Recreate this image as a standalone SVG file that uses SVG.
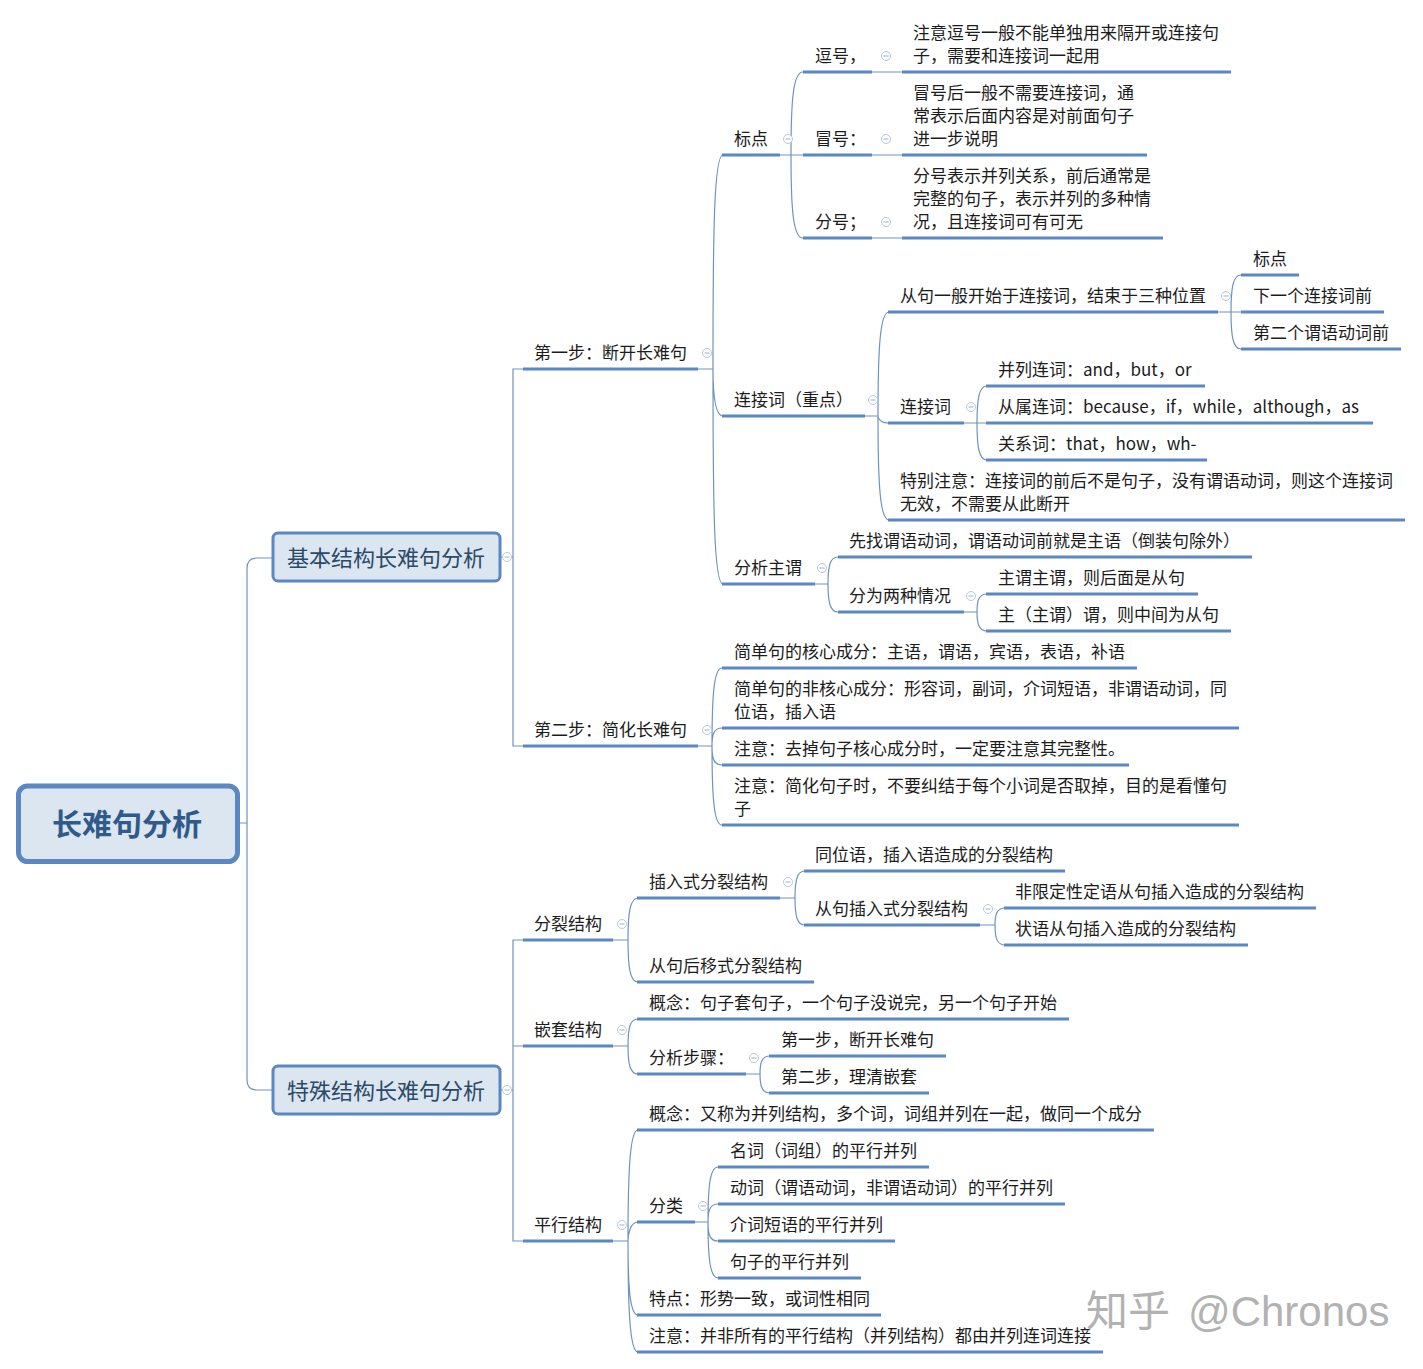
<svg xmlns="http://www.w3.org/2000/svg" width="1423" height="1369" viewBox="0 0 1423 1369">
<style>
text{font-family:"Noto Sans CJK SC","Liberation Sans",sans-serif;font-size:17px;fill:#1c1c1c}
.u{stroke:#5b87c2;stroke-width:3;fill:none}
.c{stroke:#6f93bd;stroke-width:1.2;fill:none}
.box{fill:#dce6f1;stroke:#5b87c2;stroke-width:3}
.m{font-size:22px;fill:#2b4a68}
.r{font-size:30px;font-weight:700;fill:#2f5a8a}
.w{font-size:42px;fill:#b2b2b2}
</style>
<defs>
<g id="ic"><circle r="4.5" fill="#fff" stroke="#b9c9d9" stroke-width="1"/><path d="M-2.500 0H2.500" stroke="#9fb2c6" stroke-width="1"/></g>
</defs>
<rect width="1423" height="1369" fill="#fff"/>
<g id="connectors">
<path class="c" d="M238 823H247M273 558H257Q247 558 247 568V1080Q247 1090 257 1090H273"/>
<path class="c" d="M500 557H513M523 369H513V746H523"/>
<path class="c" d="M500 1090H513M523 940H513V1241H523M513 1046H523"/>
<path class="c" d="M698 369H713M713 369C713 230 714 155 723 155M713 369C713 385 714 416 723 416M713 369C713 509 714 584 723 584"/>
<path class="c" d="M780 155H803M791 155C791 101 793 72 803 72M791 155C791 209 793 238 803 238"/>
<path class="c" d="M872 72H902M872 155H902M872 238H902"/>
<path class="c" d="M865 416H878M878 416C878 348 880 312 889 312M878 416C878 418 880 423 889 423M878 416C878 484 880 520 889 520"/>
<path class="c" d="M1218 312H1241M1231 312C1231 288 1233 275 1241 275M1231 312C1231 336 1233 349 1241 349"/>
<path class="c" d="M964 423H986M977 423C977 399 979 386 987 386M977 423C977 447 979 460 987 460"/>
<path class="c" d="M815 584H828M828 584C828 566 830 557 838 557M828 584C828 602 830 612 838 612"/>
<path class="c" d="M964 612H977M977 612C977 600 979 594 987 594M977 612C977 624 979 631 987 631"/>
<path class="c" d="M698 746H712M712 746C712 695 714 668 722 668M712 746C712 734 714 728 722 728M712 746C712 759 714 765 722 765M712 746C712 798 714 825 722 825"/>
<path class="c" d="M613 940H628M628 940C628 913 630 898 638 898M628 940C628 967 630 982 638 982"/>
<path class="c" d="M780 898H795M795 898C795 880 797 871 805 871M795 898C795 916 797 925 805 925"/>
<path class="c" d="M980 925H995M995 925C995 914 997 908 1005 908M995 925C995 938 997 945 1005 945"/>
<path class="c" d="M613 1046H628M628 1046C628 1028 630 1019 638 1019M628 1046C628 1064 630 1074 638 1074"/>
<path class="c" d="M746 1074H760M760 1074C760 1062 762 1056 770 1056M760 1074C760 1086 762 1093 770 1093"/>
<path class="c" d="M613 1241H628M628 1241C628 1170 630 1130 638 1130M628 1241C628 1235 630 1222 638 1222M628 1241C628 1288 630 1315 638 1315M628 1241C628 1312 630 1352 638 1352"/>
<path class="c" d="M695 1222H708M708 1222C708 1186 710 1167 718 1167M708 1222C708 1210 710 1204 718 1204M708 1222C708 1235 710 1241 718 1241M708 1222C708 1258 710 1278 718 1278"/>
</g>
<g id="root"><rect x="18.500" y="786" width="219" height="75.500" rx="9" fill="#dce6f1" stroke="#5b87c2" stroke-width="5"/><text class="r" x="127" y="835" text-anchor="middle">长难句分析</text></g>
<g id="m1"><rect class="box" x="273" y="533" width="227" height="48" rx="5"/><text class="m" x="287" y="566">基本结构长难句分析</text><use href="#ic" x="507" y="557"/></g>
<g id="m2"><rect class="box" x="273" y="1066" width="227" height="48" rx="5"/><text class="m" x="287" y="1099">特殊结构长难句分析</text><use href="#ic" x="507" y="1090"/></g>

<g id="s1"><text x="534" y="359">第一步：断开长难句</text><path class="u" d="M523 369H698"/><use href="#ic" x="707" y="353"/></g>
<g id="s1a"><text x="734" y="145">标点</text><path class="u" d="M722 155H780"/><use href="#ic" x="788" y="139"/></g>
<g id="s1a1"><text x="815" y="62">逗号，</text><path class="u" d="M803 72H872"/><use href="#ic" x="886" y="56"/></g>
<g id="s1a1t"><text x="913" y="39">注意逗号一般不能单独用来隔开或连接句</text><text x="913" y="62">子，需要和连接词一起用</text><path class="u" d="M902 72H1231"/></g>
<g id="s1a2"><text x="815" y="145">冒号：</text><path class="u" d="M803 155H872"/><use href="#ic" x="886" y="139"/></g>
<g id="s1a2t"><text x="913" y="99">冒号后一般不需要连接词，通</text><text x="913" y="122">常表示后面内容是对前面句子</text><text x="913" y="145">进一步说明</text><path class="u" d="M902 155H1147"/></g>
<g id="s1a3"><text x="815" y="228">分号；</text><path class="u" d="M803 238H872"/><use href="#ic" x="886" y="222"/></g>
<g id="s1a3t"><text x="913" y="182">分号表示并列关系，前后通常是</text><text x="913" y="205">完整的句子，表示并列的多种情</text><text x="913" y="228">况，且连接词可有可无</text><path class="u" d="M902 238H1163"/></g>

<g id="s1b"><text x="734" y="406">连接词（重点）</text><path class="u" d="M722 416H865"/><use href="#ic" x="873" y="400"/></g>
<g id="s1b1"><text x="900" y="302">从句一般开始于连接词，结束于三种位置</text><path class="u" d="M888 312H1218"/><use href="#ic" x="1226" y="296"/></g>
<g id="s1b1a"><text x="1253" y="265">标点</text><path class="u" d="M1241 275H1299"/></g>
<g id="s1b1b"><text x="1253" y="302">下一个连接词前</text><path class="u" d="M1241 312H1384"/></g>
<g id="s1b1c"><text x="1253" y="339">第二个谓语动词前</text><path class="u" d="M1241 349H1401"/></g>
<g id="s1b2"><text x="900" y="413">连接词</text><path class="u" d="M888 423H964"/><use href="#ic" x="971" y="407"/></g>
<g id="s1b2a"><text x="998" y="376">并列连词：and，but，or</text><path class="u" d="M986 386H1205"/></g>
<g id="s1b2b"><text x="998" y="413">从属连词：because，if，while，although，as</text><path class="u" d="M986 423H1373"/></g>
<g id="s1b2c"><text x="998" y="450">关系词：that，how，wh-</text><path class="u" d="M986 460H1207"/></g>
<g id="s1b3"><text x="900" y="487">特别注意：连接词的前后不是句子，没有谓语动词，则这个连接词</text><text x="900" y="510">无效，不需要从此断开</text><path class="u" d="M888 520H1405"/></g>

<g id="s1c"><text x="734" y="574">分析主谓</text><path class="u" d="M722 584H815"/><use href="#ic" x="822" y="568"/></g>
<g id="s1c1"><text x="849" y="547">先找谓语动词，谓语动词前就是主语（倒装句除外）</text><path class="u" d="M838 557H1252"/></g>
<g id="s1c2"><text x="849" y="602">分为两种情况</text><path class="u" d="M838 612H964"/><use href="#ic" x="971" y="596"/></g>
<g id="s1c2a"><text x="998" y="584">主谓主谓，则后面是从句</text><path class="u" d="M986 594H1198"/></g>
<g id="s1c2b"><text x="998" y="621">主（主谓）谓，则中间为从句</text><path class="u" d="M986 631H1231"/></g>

<g id="s2"><text x="534" y="736">第二步：简化长难句</text><path class="u" d="M523 746H698"/><use href="#ic" x="707" y="730"/></g>
<g id="s2a"><text x="734" y="658">简单句的核心成分：主语，谓语，宾语，表语，补语</text><path class="u" d="M722 668H1137"/></g>
<g id="s2b"><text x="734" y="695">简单句的非核心成分：形容词，副词，介词短语，非谓语动词，同</text><text x="734" y="718">位语，插入语</text><path class="u" d="M722 728H1239"/></g>
<g id="s2c"><text x="734" y="755">注意：去掉句子核心成分时，一定要注意其完整性。</text><path class="u" d="M722 765H1129"/></g>
<g id="s2d"><text x="734" y="792">注意：简化句子时，不要纠结于每个小词是否取掉，目的是看懂句</text><text x="734" y="815">子</text><path class="u" d="M722 825H1239"/></g>

<g id="p1"><text x="534" y="930">分裂结构</text><path class="u" d="M523 940H613"/><use href="#ic" x="622" y="924"/></g>
<g id="p1a"><text x="649" y="888">插入式分裂结构</text><path class="u" d="M637 898H780"/><use href="#ic" x="788" y="882"/></g>
<g id="p1a1"><text x="815" y="861">同位语，插入语造成的分裂结构</text><path class="u" d="M804 871H1065"/></g>
<g id="p1a2"><text x="815" y="915">从句插入式分裂结构</text><path class="u" d="M804 925H980"/><use href="#ic" x="988" y="909"/></g>
<g id="p1a2a"><text x="1015" y="898">非限定性定语从句插入造成的分裂结构</text><path class="u" d="M1004 908H1316"/></g>
<g id="p1a2b"><text x="1015" y="935">状语从句插入造成的分裂结构</text><path class="u" d="M1004 945H1248"/></g>
<g id="p1b"><text x="649" y="972">从句后移式分裂结构</text><path class="u" d="M637 982H814"/></g>

<g id="p2"><text x="534" y="1036">嵌套结构</text><path class="u" d="M523 1046H613"/><use href="#ic" x="622" y="1030"/></g>
<g id="p2a"><text x="649" y="1009">概念：句子套句子，一个句子没说完，另一个句子开始</text><path class="u" d="M637 1019H1069"/></g>
<g id="p2b"><text x="649" y="1064">分析步骤：</text><path class="u" d="M637 1074H746"/><use href="#ic" x="754" y="1058"/></g>
<g id="p2b1"><text x="781" y="1046">第一步，断开长难句</text><path class="u" d="M769 1056H946"/></g>
<g id="p2b2"><text x="781" y="1083">第二步，理清嵌套</text><path class="u" d="M769 1093H929"/></g>

<g id="p3"><text x="534" y="1231">平行结构</text><path class="u" d="M523 1241H613"/><use href="#ic" x="622" y="1225"/></g>
<g id="p3a"><text x="649" y="1120">概念：又称为并列结构，多个词，词组并列在一起，做同一个成分</text><path class="u" d="M637 1130H1154"/></g>
<g id="p3b"><text x="649" y="1212">分类</text><path class="u" d="M637 1222H695"/><use href="#ic" x="703" y="1206"/></g>
<g id="p3b1"><text x="730" y="1157">名词（词组）的平行并列</text><path class="u" d="M718 1167H929"/></g>
<g id="p3b2"><text x="730" y="1194">动词（谓语动词，非谓语动词）的平行并列</text><path class="u" d="M718 1204H1065"/></g>
<g id="p3b3"><text x="730" y="1231">介词短语的平行并列</text><path class="u" d="M718 1241H895"/></g>
<g id="p3b4"><text x="730" y="1268">句子的平行并列</text><path class="u" d="M718 1278H861"/></g>
<g id="p3c"><text x="649" y="1305">特点：形势一致，或词性相同</text><path class="u" d="M637 1315H881"/></g>
<g id="p3d"><text x="649" y="1342">注意：并非所有的平行结构（并列结构）都由并列连词连接</text><path class="u" d="M637 1352H1103"/></g>
<text class="w" x="1086" y="1326">知乎</text><text class="w" x="1188" y="1326" style="font-family:'Liberation Sans',sans-serif">@Chronos</text>
</svg>
